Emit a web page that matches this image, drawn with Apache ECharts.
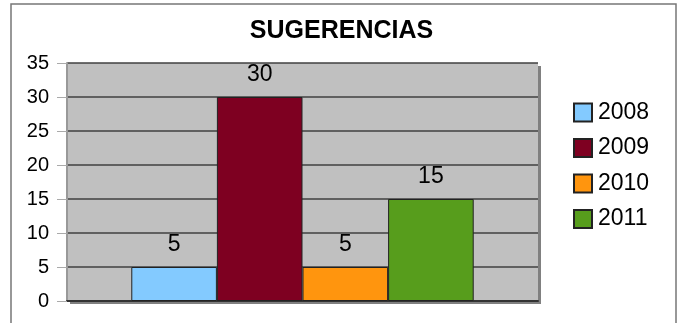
<!DOCTYPE html>
<html><head><meta charset="utf-8">
<script src="https://cdn.jsdelivr.net/npm/echarts@6/dist/echarts.min.js"></script>
<style>html,body{margin:0;padding:0;background:#fff}#c{width:683px;height:323px}</style>
</head><body><div id="c"></div>
<script>
const categories = [''];
const seriesNames = ['2008', '2009', '2010', '2011'];
const seriesValues = [5, 30, 5, 15];
const seriesColors = ['#83caff', '#7e0021', '#ff950e', '#579d1c'];
const yTicks = [0, 5, 10, 15, 20, 25, 30, 35];

const chart = echarts.init(document.getElementById('c'));
const FONT = 'Liberation Sans';
const series = seriesNames.map((n, i) => ({
  name: n,
  type: 'bar',
  data: [seriesValues[i]],
  barGap: '0%',
  barCategoryGap: '27.3%',
  z: 3,
  itemStyle: { color: seriesColors[i], borderColor: '#222', borderWidth: 1 },
  label: { show: true, position: 'top', distance: 11, fontSize: 23, color: '#000', fontFamily: FONT }
}));
chart.setOption({
  animation: false,
  textStyle: { fontFamily: FONT },
  title: {
    text: 'SUGERENCIAS', left: 'center', top: 14,
    textStyle: { fontSize: 25, fontWeight: 'bold', color: '#000', fontFamily: FONT }
  },
  legend: {
    orient: 'vertical', left: 568, top: 96, itemWidth: 18, itemHeight: 18, itemGap: 12.5,
    icon: 'rect',
    textStyle: { fontSize: 23, color: '#000', fontFamily: FONT, padding: [0, 0, 0, 1] },
    data: seriesNames
  },
  graphic: [
    { type: 'rect', shape: { x: 11, y: 4, width: 665, height: 330 }, style: { fill: 'none', stroke: '#777', lineWidth: 1.5 }, z: -20 },
    { type: 'rect', shape: { x: 70, y: 66, width: 471, height: 238 }, style: { fill: '#808080' }, z: -10 }
  ],
  grid: {
    left: 67, top: 63, width: 471, height: 238, show: true,
    backgroundColor: '#c0c0c0', borderWidth: 0
  },
  xAxis: {
    type: 'category', data: categories,
    axisTick: { show: false }, axisLabel: { show: false },
    axisLine: { lineStyle: { color: '#333', width: 2 } },
    splitLine: { show: false }
  },
  yAxis: {
    type: 'value', min: 0, max: 35, interval: 5,
    axisLine: { show: true, lineStyle: { color: '#999', width: 2 } },
    axisTick: { show: true, length: 10, lineStyle: { color: '#aaa' } },
    axisLabel: { fontSize: 20, color: '#000', margin: 18, fontFamily: FONT,
      formatter: v => yTicks.includes(v) ? String(v) : '' },
    splitLine: { lineStyle: { color: '#404040', width: 1.5 } }
  },
  series: series
});
</script></body></html>
